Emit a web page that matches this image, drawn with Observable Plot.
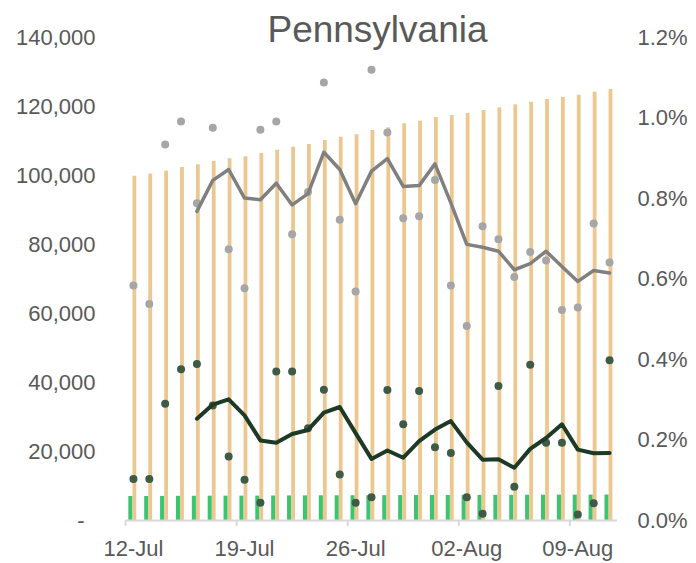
<!DOCTYPE html>
<html><head><meta charset="utf-8">
<script src="https://cdn.jsdelivr.net/npm/d3@7"></script>
<script src="https://cdn.jsdelivr.net/npm/@observablehq/plot@0.6"></script>
<style>body{margin:0;background:#fff;font-family:"Liberation Sans",Arial,sans-serif}</style>
</head><body><div id="chart"></div><script>
const days = ["12-Jul","13-Jul","14-Jul","15-Jul","16-Jul","17-Jul","18-Jul","19-Jul","20-Jul","21-Jul","22-Jul","23-Jul","24-Jul","25-Jul","26-Jul","27-Jul","28-Jul","29-Jul","30-Jul","31-Jul","01-Aug","02-Aug","03-Aug","04-Aug","05-Aug","06-Aug","07-Aug","08-Aug","09-Aug","10-Aug","11-Aug"];
const tickDays = ["12-Jul","19-Jul","26-Jul","02-Aug","09-Aug"];
const cumCases = [99800,100380,101250,102320,103100,104060,104840,105420,106380,107340,108210,108990,110150,111100,111800,113050,113830,114990,115740,116810,117380,117960,118830,119620,120490,121240,122030,122610,123280,124150,124930];
const cumDeaths = [6950,6957,6977,7003,7030,7050,7061,7068,7071,7097,7123,7139,7162,7170,7173,7177,7200,7217,7240,7253,7265,7269,7270,7294,7300,7328,7342,7356,7357,7360,7389];
const caseGrowth = [0.584,0.538,0.934,0.991,0.788,0.976,0.674,0.577,0.971,0.991,0.711,0.816,1.088,0.747,0.569,1.120,0.964,0.751,0.756,0.846,0.584,0.483,0.731,0.699,0.605,0.667,0.646,0.523,0.529,0.738,0.641];
const deathGrowth = [0.103,0.103,0.290,0.376,0.389,0.286,0.159,0.101,0.044,0.370,0.370,0.229,0.325,0.114,0.044,0.058,0.324,0.239,0.322,0.182,0.168,0.058,0.017,0.334,0.084,0.387,0.193,0.193,0.015,0.043,0.398];
const caseGrowthAvg = [null,null,null,null,0.768,0.845,0.872,0.801,0.797,0.838,0.784,0.812,0.915,0.872,0.787,0.868,0.899,0.830,0.832,0.886,0.789,0.686,0.679,0.669,0.623,0.638,0.669,0.631,0.594,0.621,0.615];
const deathGrowthAvg = [null,null,null,null,0.253,0.288,0.301,0.261,0.199,0.193,0.215,0.225,0.268,0.282,0.217,0.153,0.174,0.156,0.197,0.226,0.247,0.194,0.151,0.152,0.131,0.178,0.205,0.239,0.176,0.167,0.168];
const leftTicks = [0,20000,40000,60000,80000,100000,120000,140000];
const pctTicks = [0,0.2,0.4,0.6,0.8,1.0,1.2];

const LEFT_MAX = 140000, PCT_MAX = 1.2;
const toLeft = p => p / PCT_MAX * LEFT_MAX;
const rows = days.map((d, i) => ({i, day: d, cases: cumCases[i], deaths: cumDeaths[i],
  cg: caseGrowth[i], dg: deathGrowth[i], cga: caseGrowthAvg[i], dga: deathGrowthAvg[i]}));
const tickIdx = tickDays.map(t => days.indexOf(t));

const chart = Plot.plot({
  width: 696, height: 563,
  marginLeft: 125, marginRight: 79, marginTop: 37, marginBottom: 43,
  style: {fontFamily: "Liberation Sans, Arial, sans-serif", fontSize: "22px", color: "#595959", background: "#fff"},
  x: {type: "linear", domain: [-0.5, days.length - 0.5], axis: null},
  y: {domain: [0, LEFT_MAX], axis: null},
  marks: [
    Plot.rect(rows, {x1: d => d.i - 0.29, x2: d => d.i - 0.03, y1: 0, y2: "deaths", fill: "#3DC471"}),
    Plot.rect(rows, {x1: d => d.i - 0.03, x2: d => d.i + 0.21, y1: 0, y2: "cases", fill: "#ECC890"}),
    Plot.ruleY([0], {stroke: "#d9d9d9", strokeWidth: 2}),
    Plot.axisX(tickIdx.map(i => i - 0.5), {tickSize: 6, stroke: "#d9d9d9", strokeWidth: 2, tickFormat: () => "", label: null}),
    Plot.axisX(tickIdx, {tickSize: 0, tickPadding: 20, tickFormat: (d, k) => tickDays[k], label: null, fill: "#595959", fontSize: 22}),
    Plot.axisY(leftTicks, {anchor: "left", tickSize: 0, tickPadding: 30, label: null, fill: "#595959", fontSize: 22,
      tickFormat: d => d === 0 ? "-\u2002" : d3.format(",")(d)}),
    Plot.axisY(pctTicks.map(toLeft), {anchor: "right", tickSize: 0, tickPadding: 20, label: null, fill: "#595959", fontSize: 22,
      tickFormat: v => (v / LEFT_MAX * PCT_MAX).toFixed(1) + "%"}),
    Plot.dot(rows, {x: "i", y: d => toLeft(d.cg), r: 4, fill: "#A6A6A6", stroke: "none"}),
    Plot.dot(rows, {x: "i", y: d => toLeft(d.dg), r: 4, fill: "#3F5A45", stroke: "none"}),
    Plot.line(rows.filter(d => d.cga != null), {x: "i", y: d => toLeft(d.cga), stroke: "#808080", strokeWidth: 3.5}),
    Plot.line(rows.filter(d => d.dga != null), {x: "i", y: d => toLeft(d.dga), stroke: "#1C3A25", strokeWidth: 4}),
    Plot.text(["Pennsylvania"], {text: d => d, frameAnchor: "top", dx: 6, dy: -7, fontSize: 37, fill: "#595959", lineAnchor: "middle"})
  ]
});
document.getElementById("chart").appendChild(chart);
</script></body></html>
